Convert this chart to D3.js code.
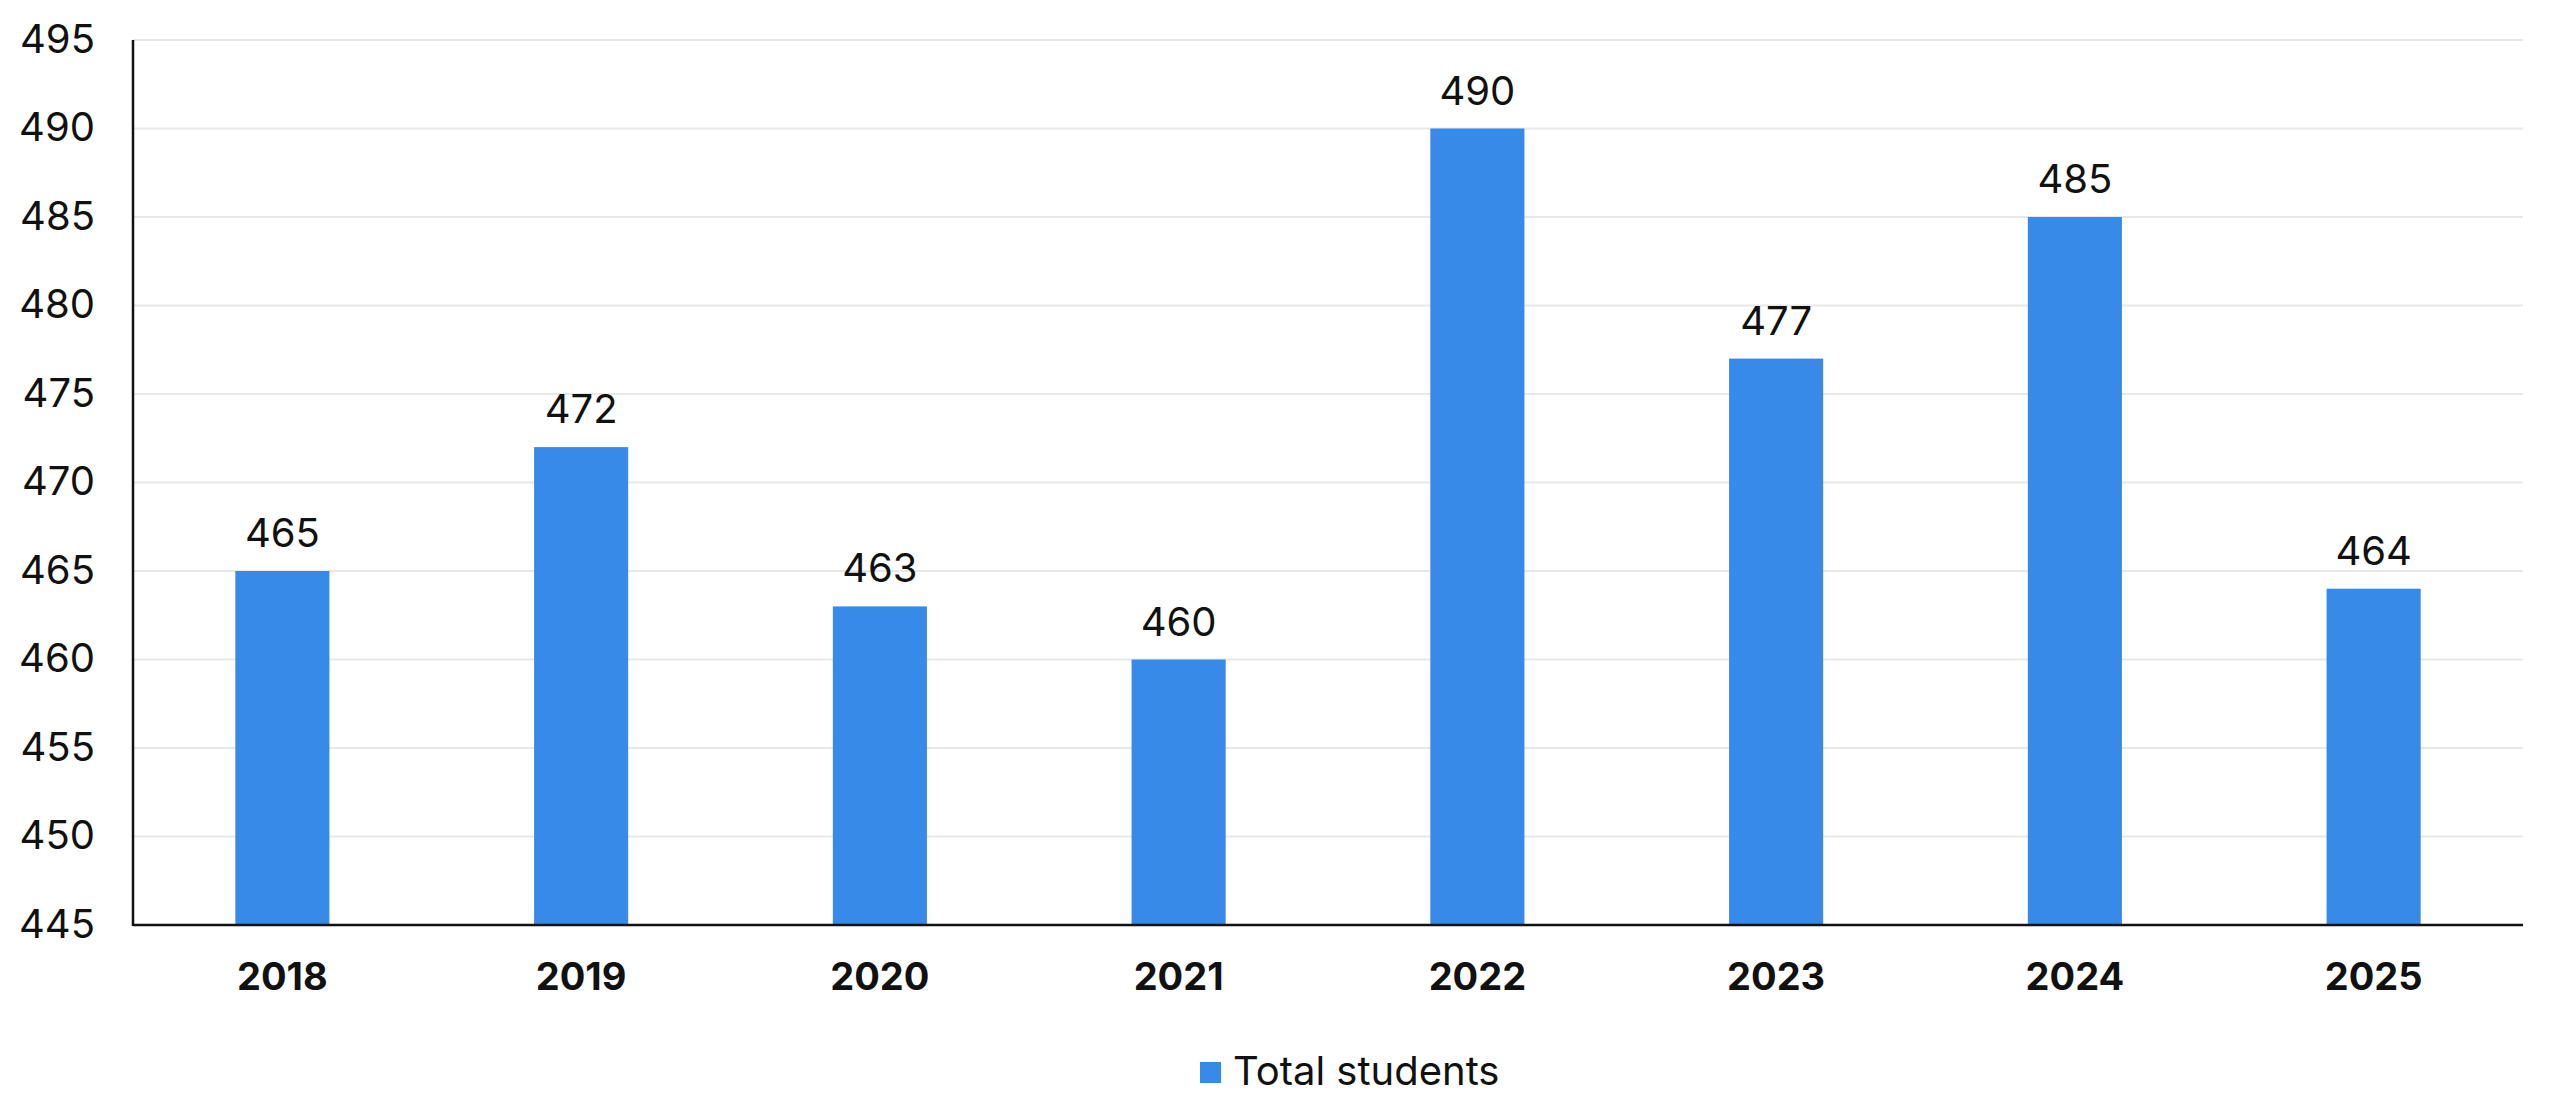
<!DOCTYPE html>
<html>
<head>
<meta charset="utf-8">
<script src="https://cdn.jsdelivr.net/npm/d3@7"></script>
<style>
  html, body { margin: 0; padding: 0; background: #fff; }
  svg { display: block; }
  text { font-family: Inter, "Noto Sans", sans-serif; fill: #111; }
</style>
</head>
<body>
<svg id="chart" width="2560" height="1106"></svg>
<script>
const categories = ["2018", "2019", "2020", "2021", "2022", "2023", "2024", "2025"];
const totalStudents = [465, 472, 463, 460, 490, 477, 485, 464];
const yTicks = [445, 450, 455, 460, 465, 470, 475, 480, 485, 490, 495];
const seriesName = "Total students";

const W = 2560, H = 1106;
const margin = { left: 133, right: 37, top: 40, bottom: 181 };
const svg = d3.select("#chart");

const x = d3.scaleBand().domain(categories).range([margin.left, W - margin.right]).padding(0);
const y = d3.scaleLinear().domain([445, 495]).range([H - margin.bottom, margin.top]);
const barW = x.step() * 0.315;
const color = "#388ae8";

// gridlines
svg.append("g").selectAll("line").data(yTicks.slice(1)).join("line")
  .attr("x1", margin.left).attr("x2", W - margin.right)
  .attr("y1", d => y(d)).attr("y2", d => y(d))
  .attr("stroke", "#e8e8e8").attr("stroke-width", 2);

// y axis labels
const yAxis = d3.axisLeft(y).tickValues(yTicks).tickSize(0).tickPadding(38);
const gy = svg.append("g").attr("transform", `translate(${margin.left},0)`).call(yAxis);
gy.select(".domain").remove();
gy.selectAll("text").attr("font-size", 40).attr("fill", "#111")
  .attr("font-family", "Inter, sans-serif").attr("dy", "0.30em");

// bars
svg.append("g").selectAll("rect").data(totalStudents).join("rect")
  .attr("x", (d, i) => x(categories[i]) + x.bandwidth() / 2 - barW / 2)
  .attr("width", barW)
  .attr("y", d => y(d))
  .attr("height", d => y(445) - y(d))
  .attr("fill", color);

// value labels
svg.append("g").selectAll("text").data(totalStudents).join("text")
  .attr("x", (d, i) => x(categories[i]) + x.bandwidth() / 2)
  .attr("y", d => y(d) - 24)
  .attr("text-anchor", "middle")
  .attr("font-size", 40)
  .text(d => d);

// axis lines
svg.append("line")
  .attr("x1", margin.left).attr("x2", margin.left)
  .attr("y1", y(495)).attr("y2", y(445) + 1)
  .attr("stroke", "#111").attr("stroke-width", 2.5);
svg.append("line")
  .attr("x1", margin.left).attr("x2", W - margin.right)
  .attr("y1", y(445)).attr("y2", y(445))
  .attr("stroke", "#111").attr("stroke-width", 2.5);

// x axis labels
const xAxis = d3.axisBottom(x).tickSize(0).tickPadding(0);
const gx = svg.append("g").attr("transform", `translate(0,${y(445)})`).call(xAxis);
gx.select(".domain").remove();
gx.selectAll("text").attr("font-size", 38).attr("font-weight", 700)
  .attr("fill", "#111").attr("font-family", "Inter, sans-serif")
  .attr("dy", 0).attr("y", 65);

// legend
const lg = svg.append("g");
lg.append("rect").attr("x", 1200).attr("y", 1062).attr("width", 21).attr("height", 21).attr("fill", color);
lg.append("text").attr("x", 1233).attr("y", 1085).attr("font-size", 40).text(seriesName);
</script>
</body>
</html>
